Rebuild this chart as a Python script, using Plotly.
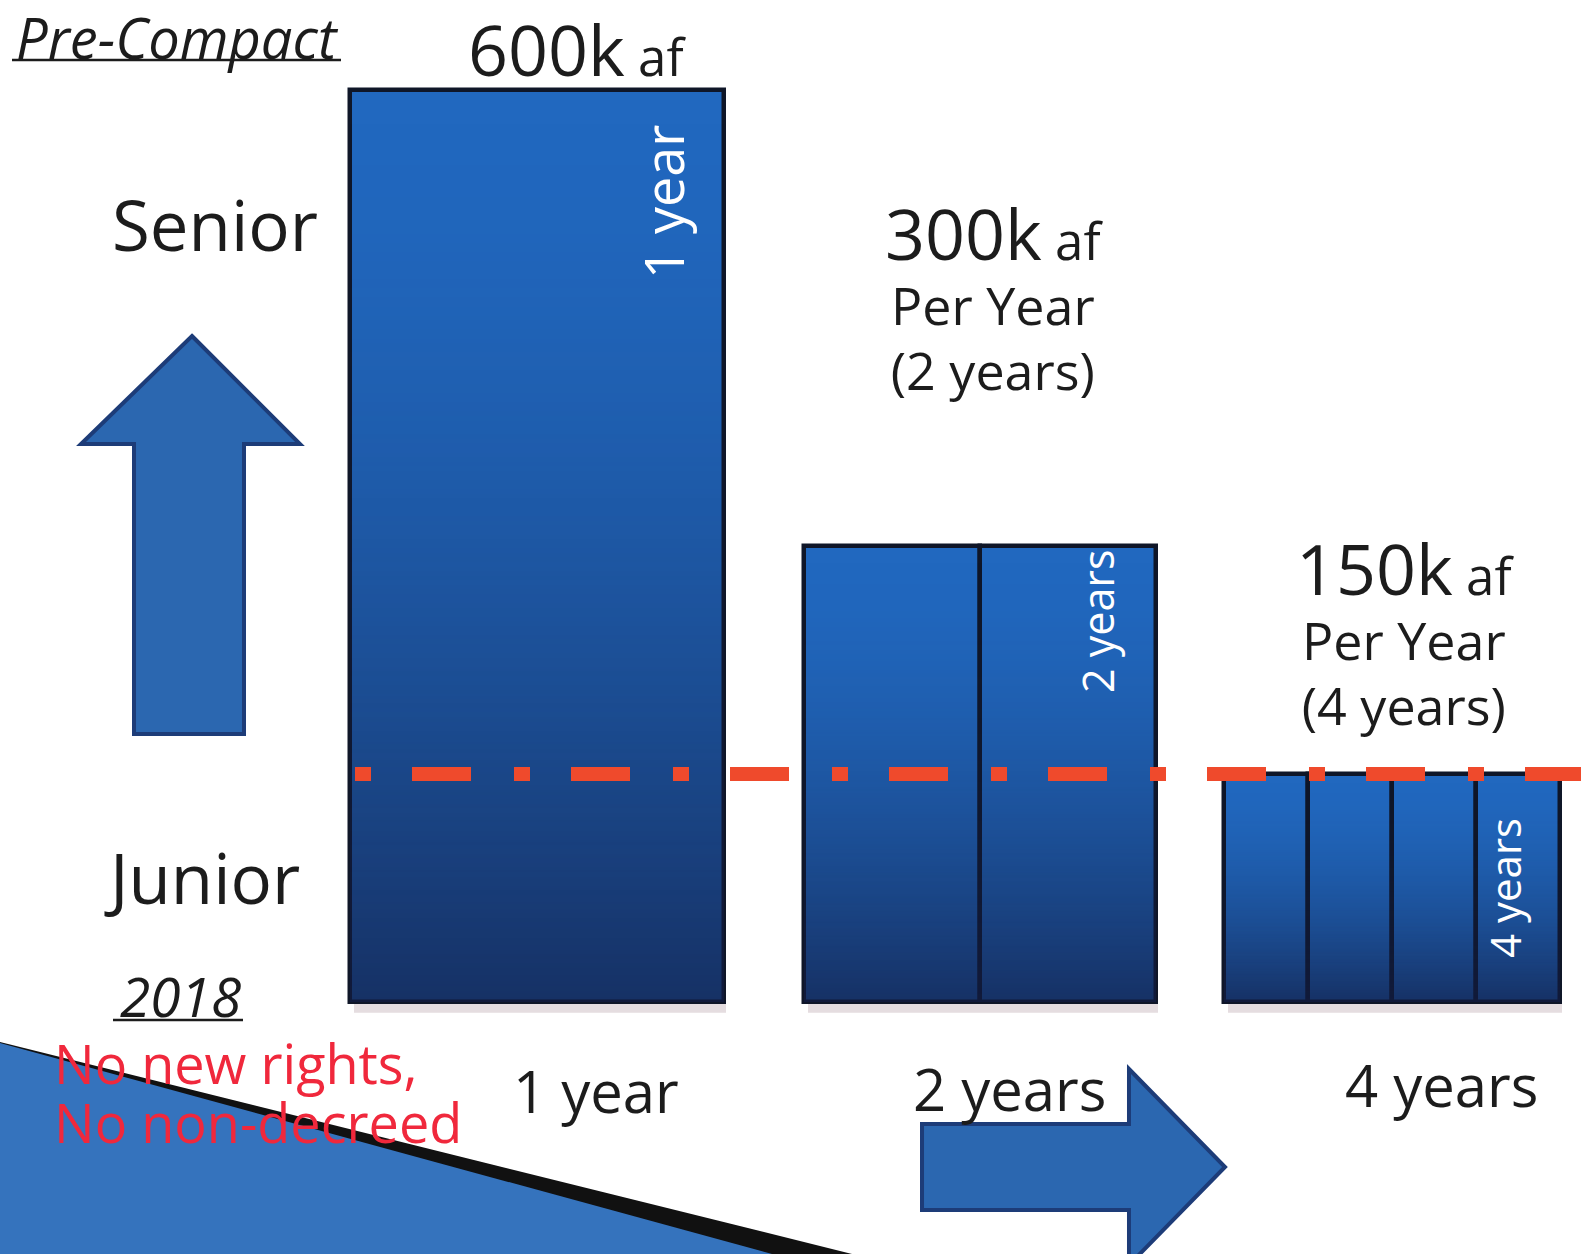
import base64
import struct
import zlib
import plotly.graph_objects as go

# ---------------- data ----------------
periods = [1, 2, 4]                      # years over which the volume is spread
volume_per_year = [600, 300, 150]        # thousand acre-feet per year
period_labels = ["1 year", "2 years", "4 years"]
junior_level = 150                       # dashed junior / senior divide (k af)

# ---------------- layout constants ----------------
W, H = 1581, 1254
group_left = [350, 804, 1224]
group_right = [724, 1156, 1560]
FONT = "Open Sans"
DARK = "#1c1c1c"
PX_PER_UNIT = 1.52
BASE_PX = 1002
y_max = BASE_PX / PX_PER_UNIT
y_min = -(H - BASE_PX) / PX_PER_UNIT


def gradient_png(h=200):
    raw = b""
    for i in range(h):
        t = i / (h - 1)
        a = int(round(255 * 0.72 * t ** 1.7))
        raw += b"\x00" + bytes([18, 28, 66, a]) * 2

    def chunk(tag, data):
        c = struct.pack(">I", len(data)) + tag + data
        return c + struct.pack(">I", zlib.crc32(tag + data) & 0xFFFFFFFF)

    png = (b"\x89PNG\r\n\x1a\n"
           + chunk(b"IHDR", struct.pack(">IIBBBBB", 2, h, 8, 6, 0, 0, 0))
           + chunk(b"IDAT", zlib.compress(raw))
           + chunk(b"IEND", b""))
    return "data:image/png;base64," + base64.b64encode(png).decode()


GRAD = gradient_png()

# ---------------- bars ----------------
bx, by, bw = [], [], []
images = []
shapes = []
for n, v, l, r in zip(periods, volume_per_year, group_left, group_right):
    w = (r - l) / n
    # soft shadow under each group
    shapes.append(dict(type="rect", xref="x", yref="y", x0=l + 4, x1=r + 2, y0=-7, y1=0,
                       layer="below", fillcolor="rgba(150,120,130,0.25)", line=dict(width=0)))
    for k in range(n):
        bx.append(l + w * (k + 0.5))
        by.append(v)
        bw.append(w)
        images.append(dict(source=GRAD, xref="x", yref="y", x=l + w * k, y=v,
                           sizex=w, sizey=v, xanchor="left", yanchor="top",
                           sizing="stretch", layer="above"))

fig = go.Figure()
fig.add_trace(go.Bar(x=bx, y=by, width=bw,
                     marker=dict(color="#2168bf", line=dict(color="#0f1628", width=4.5)),
                     hoverinfo="skip", showlegend=False))


def px(x, y):
    return f"{x / W:.5f},{1 - y / H:.5f}"


def path(points):
    return "M " + " L ".join(px(x, y) for x, y in points) + " Z"


# bottom-left wedge
shapes.append(dict(type="path", xref="paper", yref="paper", layer="above",
                   path=path([(0, 1042), (852, H), (0, H)]), fillcolor="#111111", line=dict(width=0)))
shapes.append(dict(type="path", xref="paper", yref="paper", layer="above",
                   path=path([(0, 1043), (772, H), (0, H)]), fillcolor="#3573bd", line=dict(width=0)))
# up arrow
shapes.append(dict(type="path", xref="paper", yref="paper", layer="above",
                   path=path([(192, 336), (300, 444), (244, 444), (244, 734), (134, 734), (134, 444), (81, 444)]),
                   fillcolor="#2b67b0", line=dict(color="#1d3c78", width=4)))
# right arrow
shapes.append(dict(type="path", xref="paper", yref="paper", layer="above",
                   path=path([(922, 1124), (1129, 1124), (1129, 1069), (1225, 1167), (1129, 1265), (1129, 1210), (922, 1210)]),
                   fillcolor="#2b67b0", line=dict(color="#1d3c78", width=4)))
# junior level dashed line
shapes.append(dict(type="line", xref="x", yref="y", x0=355, x1=W, y0=junior_level, y1=junior_level,
                   layer="above", line=dict(color="#ef4a2c", width=14, dash="16px,41px,59px,43px")))
# underlines
shapes.append(dict(type="line", xref="paper", yref="paper", x0=12 / W, x1=341 / W, y0=1 - 60 / H, y1=1 - 60 / H,
                   line=dict(color=DARK, width=2.5)))
shapes.append(dict(type="line", xref="paper", yref="paper", x0=113 / W, x1=243 / W, y0=1 - 1020 / H, y1=1 - 1020 / H,
                   line=dict(color=DARK, width=2.5)))


def ann(text, x, y, size, color=DARK, italic=False, angle=0, xanchor="center", align="center"):
    return dict(text=text, x=x / W, y=1 - y / H, xref="paper", yref="paper", showarrow=False,
                font=dict(family=FONT, size=size, color=color, style="italic" if italic else "normal"),
                textangle=angle, xanchor=xanchor, yanchor="middle", align=align)


def sized(text, size):
    return f"<span style='font-size:{size}px'>{text}</span>"


annotations = [
    ann("Pre-Compact", 14, 37, 56, italic=True, xanchor="left"),
    ann("Senior", 215, 224, 69),
    ann("Junior", 202, 877, 69),
    ann("2018", 180, 995, 55, italic=True),
    ann(sized("No new rights,", 54) + "<br>" + sized("No non-decreed", 54), 52, 1092, 45,
        color="#f0283c", xanchor="left", align="left"),
]

amount_pos = [(577, 49), (994, 233), (1405, 568)]
bottom_pos = [(596, 1090), (1010, 1088), (1441, 1084)]
inner_pos = [(663, 202, 54), (1097, 622, 43), (1504, 888, 42)]
for n, v, lab, (ax, ay), (bxp, byp), (ix, iy, isz) in zip(periods, volume_per_year, period_labels,
                                                           amount_pos, bottom_pos, inner_pos):
    head = sized(f"{v}k", 70) + sized(" af", 51)
    if n > 1:
        text = head + "<br>" + sized("Per Year", 52) + "<br>" + sized(f"({lab})", 52)
        annotations.append(ann(text, ax, ay + 62, 50))
    else:
        annotations.append(ann(head, ax, ay, 51))
    annotations.append(ann(lab, bxp, byp, 58))
    annotations.append(ann(lab, ix, iy, isz, color="white", angle=-90))

fig.update_layout(
    width=W, height=H, margin=dict(l=0, r=0, t=0, b=0),
    paper_bgcolor="white", plot_bgcolor="white",
    xaxis=dict(range=[0, W], visible=False, fixedrange=True),
    yaxis=dict(range=[y_min, y_max], visible=False, fixedrange=True),
    shapes=shapes, annotations=annotations, images=images,
    bargap=0, showlegend=False,
)

fig.write_html("out.html", config={"displayModeBar": False},
               post_script="document.body.style.margin='0';document.documentElement.style.overflow='hidden';")
